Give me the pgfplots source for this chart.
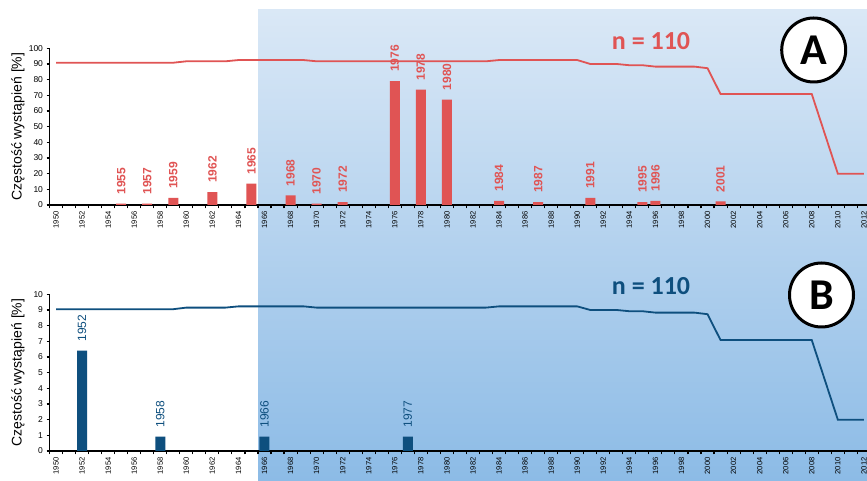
\documentclass[border=0pt]{standalone}
\usepackage{fontspec}
\setmainfont{Liberation Sans}
\newfontfamily\calibri{Carlito}
\usepackage{pgfplots}
\pgfplotsset{compat=1.18}
\definecolor{cred}{RGB}{224,84,84}
\definecolor{cblue}{RGB}{14,79,126}
\definecolor{bgtop}{RGB}{218,232,246}
\definecolor{bgbot}{RGB}{140,187,230}

\pgfplotsset{
 panel/.style={
  scale only axis, width=817.5pt, height=156.7pt,
  xmin=1949.5, xmax=2012.24,
  axis x line*=bottom, axis y line*=left,
  axis line style={line width=1.6pt, black},
  xtick={1950,1952,...,2012},
  minor xtick={1949.5,1950.5,...,2012.5},
  major x tick style={draw=none},
  minor tick length=3.5pt, major tick length=3pt, tick align=outside,
  every tick/.style={black, line width=1.1pt},
  /pgf/number format/assume math mode=true,
  xticklabel style={rotate=90, anchor=east, font=\fontsize{7.6}{8}\selectfont, /pgf/number format/1000 sep={}},
  yticklabel style={font=\fontsize{8.5}{9}\selectfont},
  ylabel style={font=\fontsize{14}{16}\selectfont, at={(axis description cs:-0.0385,0.5)}, anchor=center},
  ylabel={Częstość wystąpień [\%]},
  clip=false,
 },
 barlab/.style={point meta=explicit symbolic, nodes near coords,
   nodes near coords style={rotate=90, anchor=west, inner xsep=9pt, inner ysep=0pt, text=#1}},
}

\begin{document}
\begin{tikzpicture}
\useasboundingbox (0pt,0pt) rectangle (867pt,481pt);
\fill[white] (0pt,0pt) rectangle (867pt,481pt);
\shade[top color=bgtop, bottom color=bgbot] (258pt,0pt) rectangle (867pt,471pt);

% Panel A
\begin{axis}[panel, at={(49.5pt,276pt)}, anchor=south west,
  ymin=0, ymax=100, ytick={0,10,...,100}]
\addplot[ybar, bar width=10pt, fill=cred, draw=none, barlab=cred,
  nodes near coords style={font=\bfseries\fontsize{12}{12}\selectfont}]
 coordinates {
 (1955,0.9) [1955] (1957,0.9) [1957] (1959,4.5) [1959] (1962,8.2) [1962]
 (1965,13.6) [1965] (1968,6.2) [1968] (1970,0.9) [1970] (1972,1.8) [1972]
 (1976,79.1) [1976] (1978,73.6) [1978] (1980,67.3) [1980] (1984,2.7) [1984]
 (1987,1.8) [1987] (1991,4.5) [1991] (1995,1.8) [1995] (1996,2.7) [1996]
 (2001,2.3) [2001]
 };
\addplot[cred, line width=1.8pt] coordinates {
 (1950,90.8) (1959,90.8) (1960,91.7) (1963,91.7) (1964,92.5) (1969,92.5)
 (1970,91.7) (1983,91.7) (1984,92.5) (1990,92.5) (1991,90.0) (1993,90.0)
 (1994,89.2) (1995,89.2) (1996,88.3) (1999,88.3) (2000,87.3) (2001,70.8)
 (2008,70.8) (2009,45.4) (2010,20.0) (2012,20.0)
 };
\end{axis}

% Panel B
\begin{axis}[panel, at={(49.5pt,30pt)}, anchor=south west,
  ymin=0, ymax=10, ytick={0,1,...,10}]
\addplot[ybar, bar width=10pt, fill=cblue, draw=none, barlab=cblue,
  nodes near coords style={font=\fontsize{12}{12}\selectfont}]
 coordinates {
 (1952,6.4) [1952] (1958,0.91) [1958] (1966,0.91) [1966] (1977,0.91) [1977]
 };
\addplot[cblue, line width=1.8pt] coordinates {
 (1950,9.05) (1959,9.05) (1960,9.15) (1963,9.15) (1964,9.23) (1969,9.23)
 (1970,9.15) (1983,9.15) (1984,9.23) (1990,9.23) (1991,9.0) (1993,9.0)
 (1994,8.92) (1995,8.92) (1996,8.83) (1999,8.83) (2000,8.73) (2001,7.08)
 (2008,7.08) (2009,4.54) (2010,2.0) (2012,2.0)
 };
\end{axis}

% annotations
\node[text=cred, font=\calibri\bfseries\fontsize{26}{26}\selectfont] at (651pt,439.5pt) {n = 110};
\node[text=cblue, font=\calibri\bfseries\fontsize{26}{26}\selectfont] at (651pt,195pt) {n = 110};
\draw[line width=3pt, fill=white] (813.7pt,431pt) circle (32pt);
\node[font=\calibri\bfseries\fontsize{44}{44}\selectfont] at (813.7pt,431pt) {A};
\draw[line width=3pt, fill=white] (821.5pt,186pt) circle (32pt);
\node[font=\calibri\bfseries\fontsize{44}{44}\selectfont] at (821.5pt,186pt) {B};
\end{tikzpicture}
\end{document}
